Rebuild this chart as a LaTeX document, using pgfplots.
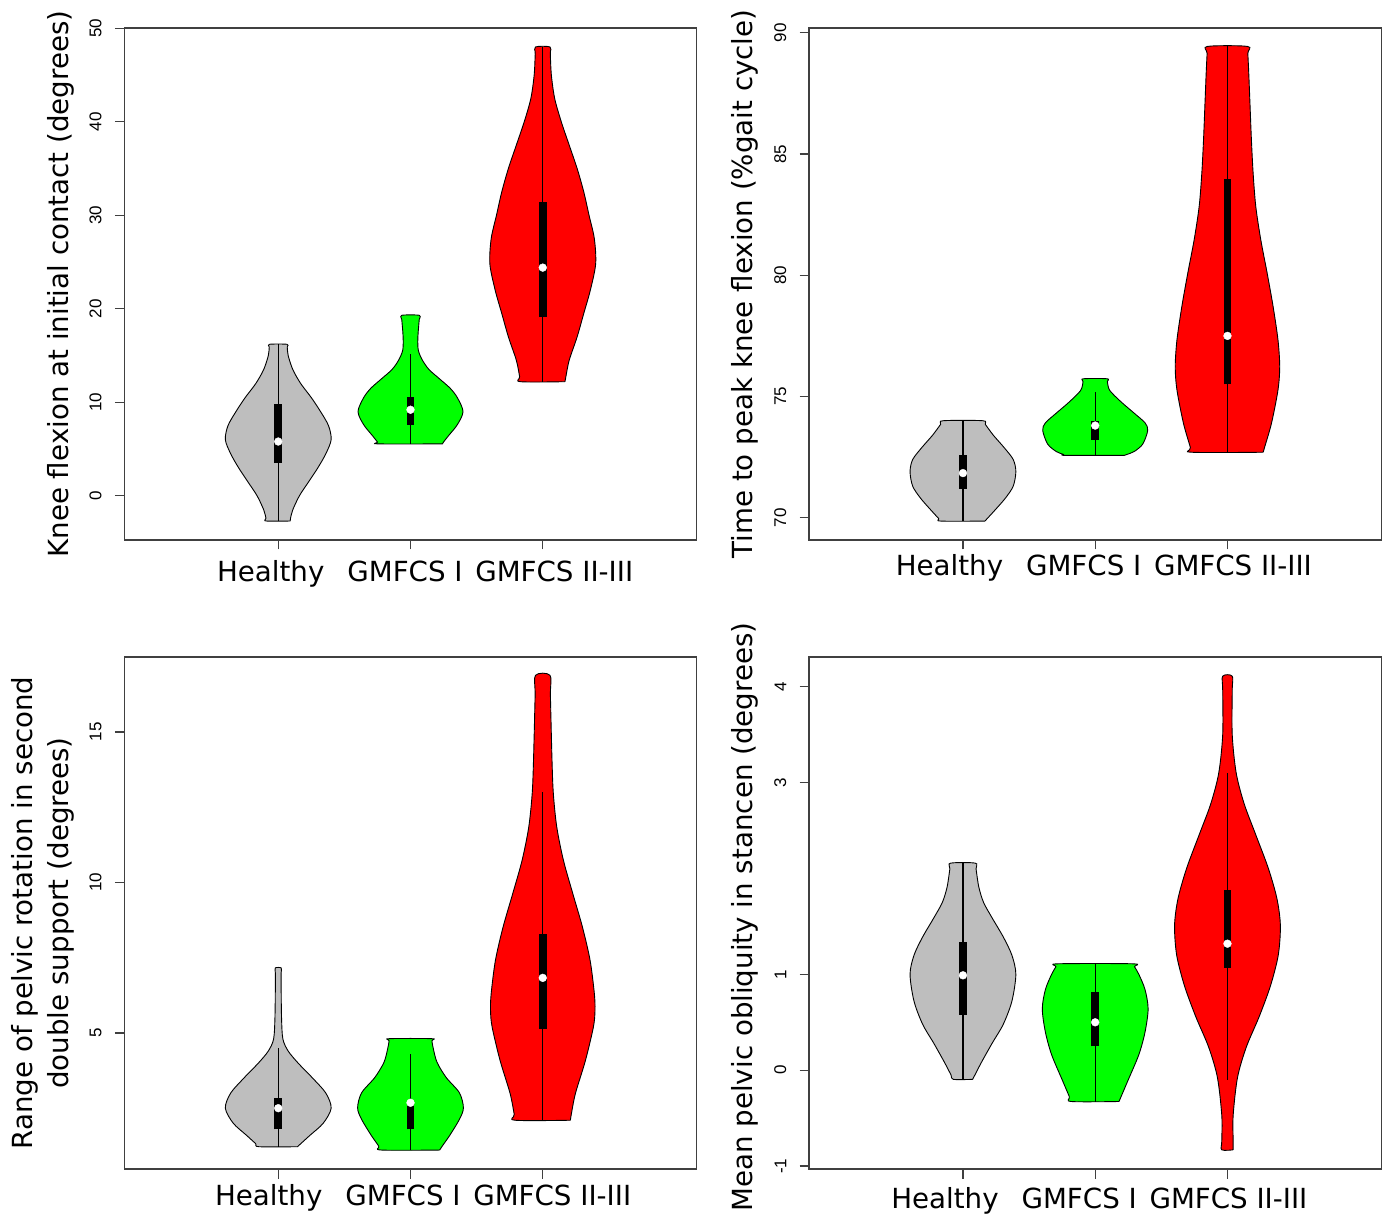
\documentclass[border=0pt]{standalone}
\usepackage{fontspec}
\setmainfont{DejaVu Sans}
\newfontfamily\tickfont{Liberation Sans}
\usepackage{pgfplots}
\usepackage{pgfplotstable}
\pgfplotsset{compat=1.18}
\definecolor{vgray}{HTML}{BEBEBE}
\definecolor{vgreen}{HTML}{00FF00}
\definecolor{vred}{HTML}{FF0000}
\definecolor{axcol}{HTML}{404040}

% Each violin outline: y and signed half-width w (right side up, left side down)
% ---------- Panel 1: knee flexion at initial contact ----------
\pgfplotstableread[row sep=\\]{
y w\\
-2.7 0.091\\ -2.4 0.093\\ -1.5 0.11\\ 0 0.16\\ 1.5 0.23\\ 3 0.30\\ 4.5 0.36\\ 6 0.40\\ 7.5 0.38\\ 9 0.32\\ 10.5 0.25\\ 12 0.17\\ 13.5 0.11\\ 15 0.075\\ 15.9 0.068\\ 16.2 0.067\\
16.2 -0.067\\ 15.9 -0.068\\ 15 -0.075\\ 13.5 -0.11\\ 12 -0.17\\ 10.5 -0.25\\ 9 -0.32\\ 7.5 -0.38\\ 6 -0.40\\ 4.5 -0.36\\ 3 -0.30\\ 1.5 -0.23\\ 0 -0.16\\ -1.5 -0.11\\ -2.4 -0.093\\ -2.7 -0.091\\ -2.7 0.091\\
}\pAa
\pgfplotstableread[row sep=\\]{
y w\\
5.55 0.242\\ 5.75 0.25\\ 6.4 0.286\\ 7.6 0.354\\ 9.0 0.397\\ 10.5 0.354\\ 11.5 0.30\\ 12.5 0.22\\ 13.5 0.14\\ 14.5 0.09\\ 15.5 0.06\\ 16.5 0.055\\ 17.5 0.058\\ 18.85 0.066\\ 19.3 0.067\\
19.3 -0.067\\ 18.85 -0.066\\ 17.5 -0.058\\ 16.5 -0.055\\ 15.5 -0.06\\ 14.5 -0.09\\ 13.5 -0.14\\ 12.5 -0.22\\ 11.5 -0.30\\ 10.5 -0.354\\ 9.0 -0.397\\ 7.6 -0.354\\ 6.4 -0.286\\ 5.75 -0.25\\ 5.55 -0.242\\ 5.55 0.242\\
}\pAb
\pgfplotstableread[row sep=\\]{
y w\\
12.2 0.168\\ 12.75 0.175\\ 14.5 0.20\\ 17 0.26\\ 19.5 0.31\\ 22 0.36\\ 24.8 0.40\\ 27.5 0.39\\ 30 0.35\\ 32.5 0.31\\ 35 0.26\\ 37.5 0.20\\ 40 0.14\\ 42.5 0.09\\ 45 0.065\\ 47.25 0.057\\ 48 0.055\\
48 -0.055\\ 47.25 -0.057\\ 45 -0.065\\ 42.5 -0.09\\ 40 -0.14\\ 37.5 -0.20\\ 35 -0.26\\ 32.5 -0.31\\ 30 -0.35\\ 27.5 -0.39\\ 24.8 -0.40\\ 22 -0.36\\ 19.5 -0.31\\ 17 -0.26\\ 14.5 -0.20\\ 12.75 -0.175\\ 12.2 -0.168\\ 12.2 0.168\\
}\pAc
% ---------- Panel 2: time to peak knee flexion ----------
\pgfplotstableread[row sep=\\]{
y w\\
69.86 0.166\\ 69.97 0.1845\\ 70.3 0.24\\ 70.8 0.32\\ 71.3 0.38\\ 71.9 0.40\\ 72.4 0.38\\ 72.9 0.31\\ 73.4 0.23\\ 73.85 0.169\\ 74.0 0.149\\
74.0 -0.149\\ 73.85 -0.169\\ 73.4 -0.23\\ 72.9 -0.31\\ 72.4 -0.38\\ 71.9 -0.40\\ 71.3 -0.38\\ 70.8 -0.32\\ 70.3 -0.24\\ 69.97 -0.1845\\ 69.86 -0.166\\ 69.86 0.166\\
}\pBa
\pgfplotstableread[row sep=\\]{
y w\\
72.57 0.22\\ 72.61 0.24\\ 72.73 0.295\\ 73.04 0.36\\ 73.6 0.397\\ 73.91 0.377\\ 74.31 0.295\\ 74.78 0.195\\ 75.25 0.11\\ 75.61 0.092\\ 75.73 0.09\\
75.73 -0.09\\ 75.61 -0.092\\ 75.25 -0.11\\ 74.78 -0.195\\ 74.31 -0.295\\ 73.91 -0.377\\ 73.6 -0.397\\ 73.04 -0.36\\ 72.73 -0.295\\ 72.61 -0.24\\ 72.57 -0.22\\ 72.57 0.22\\
}\pBb
\pgfplotstableread[row sep=\\]{
y w\\
72.7 0.27\\ 72.9 0.2805\\ 73.9 0.333\\ 75.27 0.382\\ 76.23 0.395\\ 77.33 0.382\\ 78.71 0.345\\ 80.09 0.30\\ 81.46 0.252\\ 82.84 0.214\\ 84.21 0.194\\ 85.59 0.181\\ 86.96 0.171\\ 88.34 0.161\\ 89.15 0.154\\ 89.44 0.151\\
89.44 -0.151\\ 89.15 -0.154\\ 88.34 -0.161\\ 86.96 -0.171\\ 85.59 -0.181\\ 84.21 -0.194\\ 82.84 -0.214\\ 81.46 -0.252\\ 80.09 -0.30\\ 78.71 -0.345\\ 77.33 -0.382\\ 76.23 -0.395\\ 75.27 -0.382\\ 73.9 -0.333\\ 72.9 -0.2805\\ 72.7 -0.27\\ 72.7 0.27\\
}\pBc
% ---------- Panel 3: range of pelvic rotation ----------
\pgfplotstableread[row sep=\\]{
y w\\
1.22 0.145\\ 1.32 0.17\\ 1.6 0.24\\ 2.0 0.34\\ 2.5 0.40\\ 3.0 0.36\\ 3.5 0.26\\ 4.0 0.15\\ 4.4 0.075\\ 4.8 0.035\\ 5.5 0.025\\ 6.5 0.022\\ 7.0 0.022\\ 7.16 0.022\\
7.16 -0.022\\ 7.0 -0.022\\ 6.5 -0.022\\ 5.5 -0.025\\ 4.8 -0.035\\ 4.4 -0.075\\ 4.0 -0.15\\ 3.5 -0.26\\ 3.0 -0.36\\ 2.5 -0.40\\ 2.0 -0.34\\ 1.6 -0.24\\ 1.32 -0.17\\ 1.22 -0.145\\ 1.22 0.145\\
}\pCa
\pgfplotstableread[row sep=\\]{
y w\\
1.11 0.22\\ 1.24 0.24\\ 1.62 0.30\\ 2.13 0.37\\ 2.51 0.40\\ 3.01 0.37\\ 3.52 0.27\\ 4.03 0.20\\ 4.53 0.17\\ 4.74 0.162\\ 4.81 0.16\\
4.81 -0.16\\ 4.74 -0.162\\ 4.53 -0.17\\ 4.03 -0.20\\ 3.52 -0.27\\ 3.01 -0.37\\ 2.51 -0.40\\ 2.13 -0.37\\ 1.62 -0.30\\ 1.24 -0.24\\ 1.11 -0.22\\ 1.11 0.22\\
}\pCb
\pgfplotstableread[row sep=\\]{
y w\\
2.1 0.209\\ 2.3 0.216\\ 2.99 0.247\\ 4.09 0.323\\ 5.2 0.383\\ 5.75 0.395\\ 6.31 0.39\\ 7.41 0.358\\ 8.52 0.30\\ 9.63 0.227\\ 10.74 0.156\\ 11.84 0.106\\ 12.95 0.08\\ 14.05 0.07\\ 16.18 0.058\\ 16.88 0.055\\
16.88 -0.055\\ 16.18 -0.058\\ 14.05 -0.07\\ 12.95 -0.08\\ 11.84 -0.106\\ 10.74 -0.156\\ 9.63 -0.227\\ 8.52 -0.30\\ 7.41 -0.358\\ 6.31 -0.39\\ 5.75 -0.395\\ 5.2 -0.383\\ 4.09 -0.323\\ 2.99 -0.247\\ 2.3 -0.216\\ 2.1 -0.209\\ 2.1 0.209\\
}\pCc
% ---------- Panel 4: mean pelvic obliquity ----------
\pgfplotstableread[row sep=\\]{
y w\\
-0.095 0.073\\ -0.05 0.09\\ 0.083 0.14\\ 0.28 0.22\\ 0.48 0.305\\ 0.72 0.37\\ 1.0 0.40\\ 1.2 0.37\\ 1.39 0.305\\ 1.59 0.22\\ 1.75 0.156\\ 1.91 0.12\\ 2.10 0.099\\ 2.16 0.093\\
2.16 -0.093\\ 2.10 -0.099\\ 1.91 -0.12\\ 1.75 -0.156\\ 1.59 -0.22\\ 1.39 -0.305\\ 1.2 -0.37\\ 1.0 -0.40\\ 0.72 -0.37\\ 0.48 -0.305\\ 0.28 -0.22\\ 0.083 -0.14\\ -0.05 -0.09\\ -0.095 -0.073\\ -0.095 0.073\\
}\pDa
\pgfplotstableread[row sep=\\]{
y w\\
-0.326 0.18\\ -0.274 0.196\\ -0.115 0.245\\ 0.163 0.33\\ 0.40 0.377\\ 0.64 0.40\\ 0.84 0.377\\ 1.0 0.33\\ 1.08 0.297\\ 1.11 0.285\\
1.11 -0.285\\ 1.08 -0.297\\ 1.0 -0.33\\ 0.84 -0.377\\ 0.64 -0.40\\ 0.40 -0.377\\ 0.163 -0.33\\ -0.115 -0.245\\ -0.274 -0.196\\ -0.326 -0.18\\ -0.326 0.18\\
}\pDb
\pgfplotstableread[row sep=\\]{
y w\\
-0.83 0.043\\ -0.74 0.043\\ -0.47 0.043\\ -0.075 0.076\\ 0.24 0.142\\ 0.56 0.24\\ 0.88 0.325\\ 1.2 0.384\\ 1.51 0.40\\ 1.79 0.374\\ 2.11 0.308\\ 2.47 0.21\\ 2.78 0.126\\ 3.1 0.066\\ 3.5 0.036\\ 3.96 0.036\\ 4.11 0.036\\
4.11 -0.036\\ 3.96 -0.036\\ 3.5 -0.036\\ 3.1 -0.066\\ 2.78 -0.126\\ 2.47 -0.21\\ 2.11 -0.308\\ 1.79 -0.374\\ 1.51 -0.40\\ 1.2 -0.384\\ 0.88 -0.325\\ 0.56 -0.24\\ 0.24 -0.142\\ -0.075 -0.076\\ -0.47 -0.043\\ -0.74 -0.043\\ -0.83 -0.043\\ -0.83 0.043\\
}\pDc

\pgfplotsset{
  vio/.style={
    scale only axis, width=572.4pt, height=512pt,
    xmin=-0.164, xmax=4.164,
    xtick={1,2,3},
    axis line style={axcol, line width=1.3pt},
    tick style={axcol, line width=1.3pt},
    major tick length=9.5pt,
    tick align=outside,
    xtick pos=lower, ytick pos=left,
    /pgf/number format/assume math mode=true,
    yticklabel style={rotate=90, anchor=south, inner sep=0pt,
      font=\tickfont\fontsize{17}{17}\selectfont},
    yticklabel shift=13pt,
    xticklabel style={anchor=base, inner sep=0pt,
      font=\fontsize{27.7}{28}\selectfont},
    every axis y label/.style={at={(axis description cs:-0.0879,0.5)},
      rotate=90, anchor=south, inner sep=0pt, align=center,
      font=\fontsize{27.7}{36}\selectfont},
  },
}

\newcommand{\violin}[3]{%
  \addplot[fill=#3, draw=black, line width=0.9pt, smooth, line join=miter] table[x expr=#1+\thisrow{w}, y=y] {#2};
}

\begin{document}
\begin{tikzpicture}
\useasboundingbox (0pt,0pt) rectangle (1388pt,1218pt);

% Panel 1
\begin{axis}[vio, at={(124.3pt,678pt)}, anchor=south west,
  ymin=-4.73, ymax=50.03, ytick={0,10,20,30,40,50},
  xticklabels={\hspace*{-4pt}Healthy, GMFCS I, \hspace*{34pt}GMFCS II-III},
  xticklabel style={xshift=-5.5pt}, xticklabel shift=32.5pt,
  ylabel={Knee flexion at initial contact (degrees)}]
\violin{1}{\pAa}{vgray}
\violin{2}{\pAb}{vgreen}
\violin{3}{\pAc}{vred}
\addplot[black, line width=1.2pt] coordinates {(1,-2.7) (1,16.2)};
\addplot[black, line width=1.2pt] coordinates {(2,5.55) (2,15.2)};
\addplot[black, line width=1.2pt] coordinates {(3,12.2) (3,48.0)};
\addplot[black, line width=7.5pt] coordinates {(1,3.5) (1,9.8)};
\addplot[black, line width=7.5pt] coordinates {(2,7.6) (2,10.6)};
\addplot[black, line width=7.5pt] coordinates {(3,19.1) (3,31.4)};
\addplot[only marks, mark=*, mark size=3.9pt, mark options={fill=white, draw=white}] coordinates {(1,5.8) (2,9.2) (3,24.4)};
\end{axis}

% Panel 2
\begin{axis}[vio, at={(809pt,678pt)}, anchor=south west,
  ymin=69.08, ymax=90.2, ytick={70,75,80,85,90},
  xticklabels={\hspace*{-4pt}Healthy, GMFCS I, \hspace*{34pt}GMFCS II-III},
  xticklabel style={xshift=-11.5pt}, xticklabel shift=26.5pt,
  ylabel={Time to peak knee flexion (\%gait cycle)}]
\violin{1}{\pBa}{vgray}
\violin{2}{\pBb}{vgreen}
\violin{3}{\pBc}{vred}
\addplot[black, line width=1.2pt] coordinates {(1,69.86) (1,74.0)};
\addplot[black, line width=1.2pt] coordinates {(2,72.57) (2,75.2)};
\addplot[black, line width=1.2pt] coordinates {(3,72.7) (3,89.44)};
\addplot[black, line width=7.5pt] coordinates {(1,71.2) (1,72.6)};
\addplot[black, line width=7.5pt] coordinates {(2,73.2) (2,74.0)};
\addplot[black, line width=7.5pt] coordinates {(3,75.5) (3,83.97)};
\addplot[only marks, mark=*, mark size=3.9pt, mark options={fill=white, draw=white}] coordinates {(1,71.84) (2,73.8) (3,77.5)};
\end{axis}

% Panel 3
\begin{axis}[vio, at={(124.3pt,49pt)}, anchor=south west,
  ymin=0.48, ymax=17.49, ytick={5,10,15},
  xticklabels={\hspace*{-4pt}Healthy, GMFCS I, \hspace*{34pt}GMFCS II-III},
  xticklabel style={xshift=-7.5pt}, xticklabel shift=26.5pt,
  ylabel={Range of pelvic rotation in second\\double support (degrees)}]
\violin{1}{\pCa}{vgray}
\violin{2}{\pCb}{vgreen}
\violin{3}{\pCc}{vred}
\addplot[black, line width=1.2pt] coordinates {(1,1.22) (1,4.5)};
\addplot[black, line width=1.2pt] coordinates {(2,1.11) (2,4.3)};
\addplot[black, line width=1.2pt] coordinates {(3,2.1) (3,13.0)};
\addplot[black, line width=7.5pt] coordinates {(1,1.8) (1,2.85)};
\addplot[black, line width=7.5pt] coordinates {(2,1.8) (2,2.75)};
\addplot[black, line width=7.5pt] coordinates {(3,5.14) (3,8.3)};
\addplot[only marks, mark=*, mark size=3.9pt, mark options={fill=white, draw=white}] coordinates {(1,2.5) (2,2.68) (3,6.83)};
\end{axis}

% Panel 4
\begin{axis}[vio, at={(809pt,49pt)}, anchor=south west,
  ymin=-1.03, ymax=4.31, ytick={-1,0,1,3,4},
  xticklabels={\hspace*{-4pt}Healthy, GMFCS I, \hspace*{34pt}GMFCS II-III},
  xticklabel style={xshift=-16pt}, xticklabel shift=29.5pt,
  every axis y label/.append style={at={(axis description cs:-0.0879,0.492)}},
  ylabel={Mean pelvic obliquity in stancen (degrees)}]
\violin{1}{\pDa}{vgray}
\violin{2}{\pDb}{vgreen}
\violin{3}{\pDc}{vred}
\addplot[black, line width=1.2pt] coordinates {(1,-0.095) (1,2.16)};
\addplot[black, line width=1.2pt] coordinates {(2,-0.33) (2,1.11)};
\addplot[black, line width=1.2pt] coordinates {(3,-0.1) (3,3.1)};
\addplot[black, line width=7.5pt] coordinates {(1,0.58) (1,1.34)};
\addplot[black, line width=7.5pt] coordinates {(2,0.25) (2,0.82)};
\addplot[black, line width=7.5pt] coordinates {(3,1.07) (3,1.88)};
\addplot[only marks, mark=*, mark size=3.9pt, mark options={fill=white, draw=white}] coordinates {(1,0.99) (2,0.5) (3,1.32)};
\end{axis}
\end{tikzpicture}
\end{document}
